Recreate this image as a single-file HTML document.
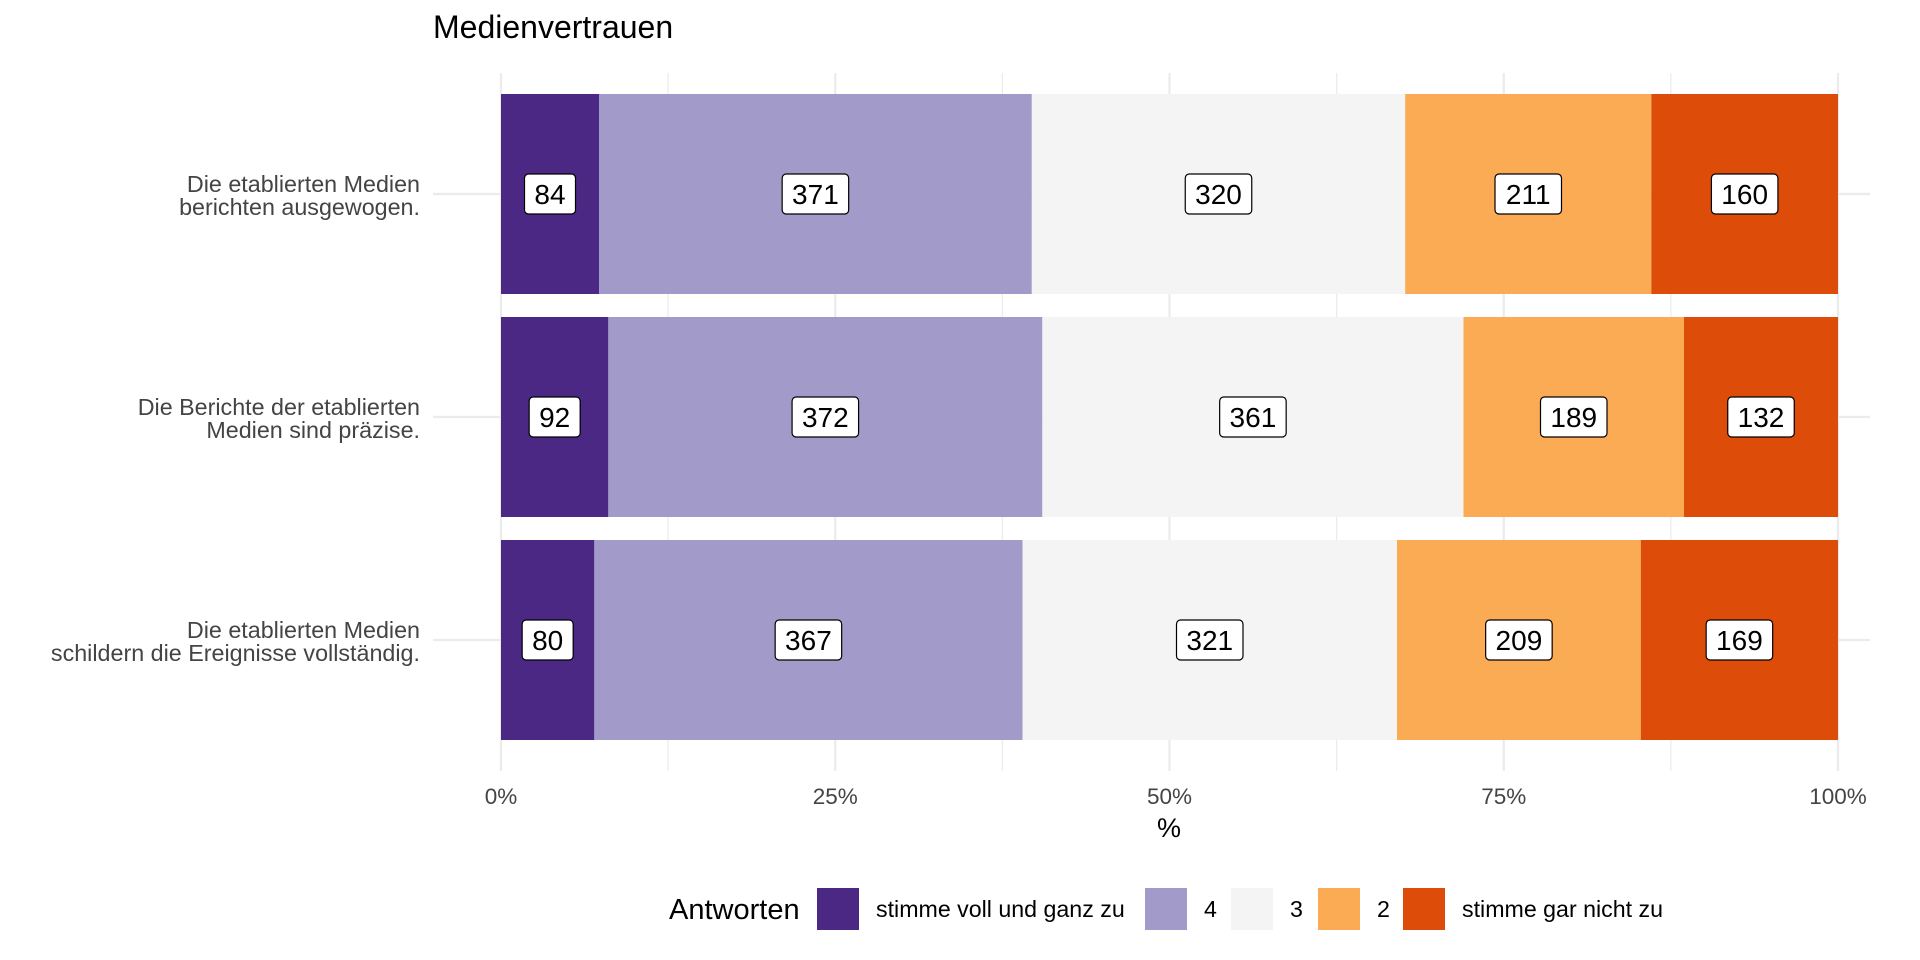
<!DOCTYPE html>
<html><head><meta charset="utf-8"><style>
body{margin:0;background:#fff;}
svg{display:block;font-family:"Liberation Sans",sans-serif;}
</style></head><body>
<svg id="chart" width="1920" height="960">
<text x="433" y="38" font-size="32" fill="#000">Medienvertrauen</text>
<g id="grid"></g><g id="bars"></g><g id="labels"></g><g id="axes"></g><g id="legend"></g>
</svg>
<script>
const categories = [["Die etablierten Medien","berichten ausgewogen."],["Die Berichte der etablierten","Medien sind präzise."],["Die etablierten Medien","schildern die Ereignisse vollständig."]];
const seriesNames = ["stimme voll und ganz zu","4","3","2","stimme gar nicht zu"];
const legendLabels = ["stimme voll und ganz zu","4","3","2","stimme gar nicht zu"];
const colors = ["#4B2884","#A29AC9","#F4F4F4","#FAAB54","#DE4C0A"];
const counts = [[84,371,320,211,160],[92,372,361,189,132],[80,367,321,209,169]];
const ticks = [0,0.25,0.5,0.75,1];
const tickLabels = ["0%","25%","50%","75%","100%"];
const NS="http://www.w3.org/2000/svg";
const x0=501,x1=1838;
const xs=v=>x0+(x1-x0)*v;
const rowTop=[94,317,539], bh=200;
const ys=i=>rowTop[0]+i*(rowTop[1]-rowTop[0]);
function mk(tag,attrs,parent){const e=document.createElementNS(NS,tag);for(const k in attrs)e.setAttribute(k,attrs[k]);parent.appendChild(e);return e;}
const grid=document.getElementById('grid'),bars=document.getElementById('bars'),labels=document.getElementById('labels'),axes=document.getElementById('axes'),legend=document.getElementById('legend');
for(let t=0;t<=8;t++){const v=t/8;const l=mk('line',{x1:xs(v),x2:xs(v),y1:73,y2:771,stroke:'#ebebeb','stroke-width':t%2?1.2:2.2},grid);

}
categories.forEach((c,i)=>{const y=ys(i)+bh/2;const l=mk('line',{x1:433,x2:1870,y1:y,y2:y,stroke:'#ebebeb','stroke-width':2.2},grid);


const t=mk('text',{x:420,y:y-2,'text-anchor':'end','font-size':23.3,fill:'#444'},axes);


mk('tspan',{x:420,dy:0},t).textContent=c[0];mk('tspan',{x:420,dy:23},t).textContent=c[1];});
ticks.forEach((v,i)=>{const t=mk('text',{x:xs(v),y:804,'text-anchor':'middle','font-size':22.5,fill:'#444'},axes);t.textContent=tickLabels[i];

});
const xt=mk('text',{x:1169,y:837,'text-anchor':'middle','font-size':27,fill:'#000'},axes);xt.textContent='%';


counts.forEach((row,i)=>{const tot=row.reduce((a,b)=>a+b,0);let cum=0;row.forEach((n,j)=>{const a=cum/tot,b=(cum+n)/tot;cum+=n;
const r=mk('rect',{x:xs(a),y:ys(i),width:xs(b)-xs(a),height:bh,fill:colors[j]},bars);


const cx=(xs(a)+xs(b))/2,cy=ys(i)+bh/2;const w=String(n).length*15.5+20;
const bx=mk('rect',{x:cx-w/2,y:cy-20,width:w,height:40,rx:4,fill:'#fff',stroke:'#000','stroke-width':1.2},labels);


const tx=mk('text',{x:cx,y:cy+10,'text-anchor':'middle','font-size':28,fill:'#000'},labels);tx.textContent=n;

});});
const lt=mk('text',{x:669,y:919,'font-size':29,fill:'#000'},legend);lt.textContent='Antworten';


const lx=[817,1145,1231,1318,1403];
legendLabels.forEach((s,j)=>{const k=mk('rect',{x:lx[j],y:888,width:42,height:42,fill:colors[j]},legend);


const t=mk('text',{x:lx[j]+59,y:917,'font-size':23.2,fill:'#000'},legend);t.textContent=s;

});
</script>
</body></html>
